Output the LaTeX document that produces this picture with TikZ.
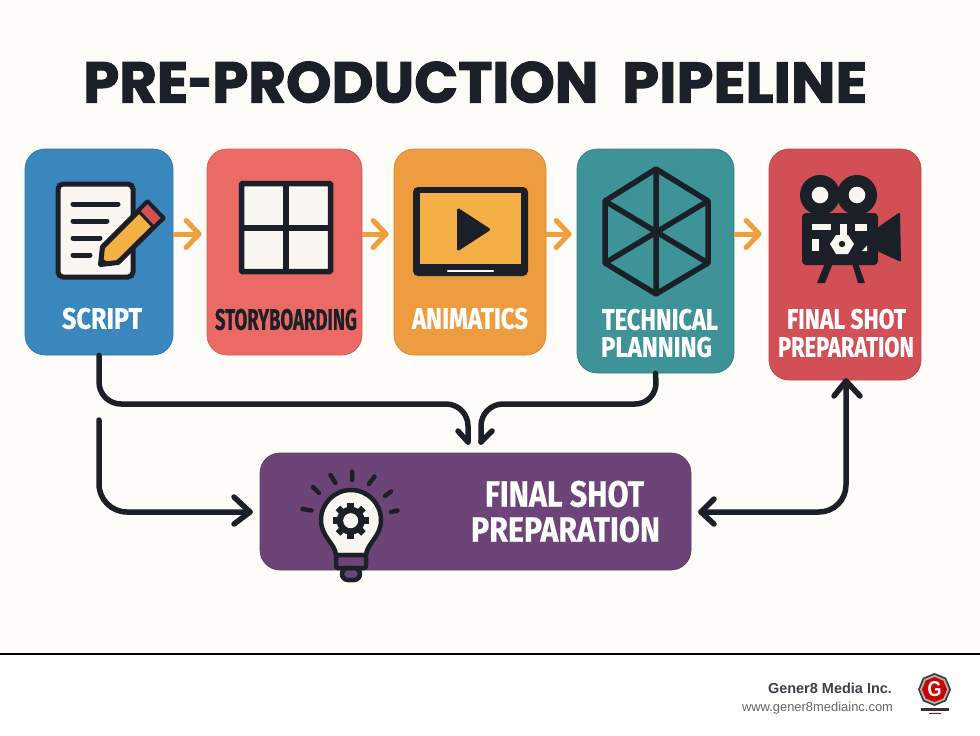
\documentclass[tikz,border=0pt]{standalone}
\usepackage{fontspec}
\usepackage{graphicx}
\usetikzlibrary{arrows.meta,shapes.geometric}
\setmainfont{Liberation Sans}
\newfontfamily\titlefont[BoldFeatures={FakeBold=1.8}]{Poppins}
\newfontfamily\labelfont[BoldFeatures={FakeBold=0.5}]{Fira Sans}
\newcommand{\fitbox}[3]{\resizebox{#1pt}{#2pt}{#3}}
\definecolor{ink}{HTML}{1B1F28}
\definecolor{paper}{HTML}{FEFCF8}
\definecolor{sheet}{HTML}{FAF7F2}
\definecolor{cblue}{HTML}{3A87BE}
\definecolor{ccoral}{HTML}{EC6A65}
\definecolor{corange}{HTML}{ED9C3F}
\definecolor{cteal}{HTML}{3E9399}
\definecolor{cred}{HTML}{D24F55}
\definecolor{cpurple}{HTML}{6D4478}
\definecolor{cyellow}{HTML}{F4AF45}
\definecolor{arrorange}{HTML}{EF9F3E}
\tikzset{
  stage/.style={draw=#1!88!black,line width=0.7pt,fill=#1,rounded corners=20pt,inner sep=0pt,minimum width=0pt},
  lbl/.style={inner sep=0pt,outer sep=0pt,text=white,font=\labelfont\bfseries},
  flow/.style={draw=arrorange,line width=5pt,-{Straight Barb[round,length=13pt,width=27pt]}},
  link/.style={draw=ink,line width=5.5pt,line cap=round,line join=round,rounded corners=22pt},
  barb/.style={draw=ink,line width=5.5pt,line cap=round,line join=round},
  iconline/.style={draw=ink,line width=5pt,line cap=round,line join=round},
  octo/.style={regular polygon,regular polygon sides=8,inner sep=0pt,minimum size=#1,shape border rotate=22.5}
}
\begin{document}
\begin{tikzpicture}[x=1pt,y=-1pt]
\useasboundingbox (0,0) rectangle (980,736);
\fill[white] (0,0) rectangle (980,736);
\fill[paper] (0,0) rectangle (980,654);
\coordinate (ruleL) at (0,654);
\coordinate (ruleR) at (980,654);
\draw[black,line width=2pt] (ruleL) -- (ruleR);

\node[inner sep=0pt,text=ink,anchor=base west] (title) at (83,102.5) {\titlefont\bfseries\fitbox{515}{41}{PRE\scalebox{0.72}[1]{-}PRODUCTION}\hspace{24pt}\fitbox{245}{40}{PIPELINE}};

% boxes
\node[stage=cblue,minimum width=148pt,minimum height=206pt] (script) at (99,252) {};
\node[stage=ccoral,minimum width=155pt,minimum height=206pt] (story) at (284.5,252) {};
\node[stage=corange,minimum width=152pt,minimum height=206pt] (anim) at (470,252) {};
\node[stage=cteal,minimum width=157pt,minimum height=224pt] (tech) at (655.5,261) {};
\node[stage=cred,minimum width=152pt,minimum height=231pt] (final) at (845,264.5) {};
\node[stage=cpurple,minimum width=431pt,minimum height=117pt] (hub) at (475.5,511.5) {};

% labels
\node[lbl] (l1) at (102,318.5) {\fitbox{80}{21}{SCRIPT}};
\node[lbl,text=ink] (l2) at (286,319.5) {\fitbox{142}{21}{STORYBOARDING}};
\node[lbl] (l3) at (470,318.5) {\fitbox{116}{21}{ANIMATICS}};
\node[lbl] (l4a) at (660,319.5) {\fitbox{116}{21}{TECHNICAL}};
\node[lbl] (l4b) at (656.5,347) {\fitbox{111}{20}{PLANNING}};
\node[lbl] (l5a) at (846.5,319) {\fitbox{119}{20}{FINAL SHOT}};
\node[lbl] (l5b) at (846,347) {\fitbox{136}{20}{PREPARATION}};
\node[lbl] (l6a) at (564.5,494) {\fitbox{159}{26}{FINAL SHOT}};
\node[lbl] (l6b) at (565.5,529.5) {\fitbox{189}{25}{PREPARATION}};

% orange arrows
\draw[flow] ([yshift=18pt]script.east) -- ([yshift=18pt,xshift=-5pt]story.west);
\draw[flow] ([yshift=18pt]story.east) -- ([yshift=18pt,xshift=-5pt]anim.west);
\draw[flow] ([yshift=18pt]anim.east) -- ([yshift=27pt,xshift=-5pt]tech.west);
\draw[flow] ([yshift=27pt]tech.east) -- ([yshift=30.5pt,xshift=-7pt]final.west);

% dark connectors
\coordinate (ca) at (99,404);
\coordinate (cb) at (468,404);
\coordinate (cc) at (468,442);
\draw[link] (script.south) -- (ca) -- (cb) -- (cc);
\draw[barb] (cc) -- ++(-10,-11);
\coordinate (tcorner) at (657,404);
\coordinate (ccorner) at (481,404);
\coordinate (ctip) at (481,442);
\draw[link] (tech.south) -- (tcorner) -- (ccorner) -- (ctip);
\draw[barb] (ctip) -- ++(11,-11);
\coordinate (start) at (99,420);
\coordinate (cbend) at (99,512);
\coordinate (htip) at (250,512);
\draw[link,rounded corners=28pt] (start) -- (cbend) -- (htip);
\draw[barb] (234,497) -- (htip) -- (234,524);
\coordinate (dtip) at (701,512);
\coordinate (dbend) at (846,512);
\coordinate (ftip) at (846,381);
\draw[link,rounded corners=27pt] (dtip) -- (dbend) -- (ftip);
\draw[barb] (714,499) -- (dtip) -- (714,524);
\draw[barb] (834,396) -- (ftip) -- (860,396);

% script icon
\draw[draw=ink,line width=5pt,fill=sheet,rounded corners=5pt] (58,184) rectangle (133,277);
\foreach \a/\b in {204/118,221/107,238/100,255/90}
  \draw[iconline] (73,\a) -- (\b,\a);
\filldraw[draw=ink,line width=5pt,line join=round,fill=cyellow] (100.5,264.5) -- (102.5,247) -- (147.5,202) -- (163,218) -- (118,262.5) -- cycle;
\filldraw[draw=ink,line width=3pt,line join=round,fill=cred] (147.5,202) -- (163,218) -- (153.5,227) -- (138.5,211) -- cycle;
\fill[ink] (100.5,264.5) -- (101.5,257) -- (108,263) -- cycle;

% grid icon
\draw[draw=ink,line width=5.5pt,fill=sheet,rounded corners=1pt] (241.5,183.5) rectangle (330.5,271.5);
\draw[draw=ink,line width=5.5pt] (286,183.5) -- (286,271.5) (241.5,228) -- (330.5,228);

% monitor icon
\fill[ink,rounded corners=5pt] (413,187) rectangle (528,276);
\fill[cyellow] (420,193) rectangle (521,264);
\draw[white,line width=2.5pt,line cap=round] (448,271) -- (493,271);
\filldraw[draw=ink,fill=ink,line width=3pt,line join=round] (458.5,210) -- (488.5,229.5) -- (458.5,249) -- cycle;

% hexagon icon
\draw[draw=ink,line width=5.5pt,line join=round] (656,169) -- (708,201) -- (708,263) -- (656,294) -- (605,263) -- (605,201) -- cycle;
\draw[draw=ink,line width=5.5pt] (656,169) -- (656,294) (708,201) -- (605,263) (708,263) -- (605,201);

% camera icon
\fill[ink] (820,195) circle[radius=20];
\fill[ink] (857,195) circle[radius=20];
\fill[sheet] (820,195) circle[radius=8.3];
\fill[sheet] (857,195) circle[radius=8.3];
\fill[ink,rounded corners=4pt] (802,213) rectangle (878,265);
\fill[cred] (838,204.5) -- (832,212.5) -- (844.5,212.5) -- cycle;
\fill[ink,rounded corners=2pt] (877,228) -- (900,212) -- (901,262) -- (877,251) -- cycle;
\fill[ink] (825,263) -- (817,283) -- (825,283) -- (833,263) -- cycle;
\fill[ink] (852,263) -- (858,283) -- (865,283) -- (858,263) -- cycle;
\fill[sheet] (812,224) rectangle (831,230);
\fill[sheet] (855,224) rectangle (867,231);
\fill[sheet] (812,239) rectangle (819,251);
\fill[sheet] (839.5,224) rectangle (847,240);
\fill[sheet] (830,244) -- (836,235) -- (848,235) -- (854,244) -- (848,254) -- (836,254) -- cycle;
\fill[ink] (842,244) circle[radius=3.2];
\fill[sheet] (862,251) -- (867,251) -- (867,245.5) -- cycle;

% bulb icon
\filldraw[draw=ink,fill=sheet,line width=4.5pt,line join=round] (336,555) .. controls (335,543) and (321,537) .. (321,520) arc[start angle=180,end angle=360,radius=30] .. controls (381,537) and (367,543) .. (366,555) -- cycle;
\filldraw[draw=ink,fill=cpurple,line width=4.5pt,line join=round,rounded corners=2pt] (336,555) -- (366,555) -- (366,568) -- (336,568) -- cycle;
\filldraw[draw=ink,fill=cpurple,line width=4.5pt,line join=round,rounded corners=6pt] (342,568) -- (360,568) -- (360,580) -- (342,580) -- cycle;
\draw[iconline,line width=4.5pt] (302.5,509) -- (311.5,510.5) (313,487) -- (319,493) (330.5,475) -- (335.5,483) (352,471.5) -- (352,480) (369,484) -- (374.5,476.5) (385,496) -- (391,491.5) (391,512) -- (397.5,510.5);
\foreach \r in {0,45,...,315}
  \draw[ink,line width=6.5pt] (350.7,520.7) ++(\r:11) -- ++(\r:7);
\fill[ink] (350.7,520.7) circle[radius=14];
\fill[sheet] (350.7,520.7) circle[radius=7.5];

% footer
\node[inner sep=0pt,text=ink!85!white] (brand) at (830,688) {\resizebox{124pt}{!}{\bfseries Gener8 Media Inc.}};
\node[inner sep=0pt,text=black!60] (site) at (817.5,708.5) {\resizebox{151pt}{!}{www.gener8mediainc.com}};
\node[octo=33pt,fill=black!75] (logoA) at (934.5,689.5) {};
\node[octo=29pt,fill=black!30] (logoB) at (934.5,689.5) {};
\node[octo=25pt,fill=red!80!black] (logoC) at (934.5,689.5) {};
\node[inner sep=0pt,text=white,font=\bfseries] (logoG) at (934.5,689.5) {\resizebox{14pt}{15pt}{G}};
\fill[black!80] (921,708) rectangle (949,710.5);
\fill[red!75!black] (929,712.5) rectangle (941,713.5);
\end{tikzpicture}
\end{document}
